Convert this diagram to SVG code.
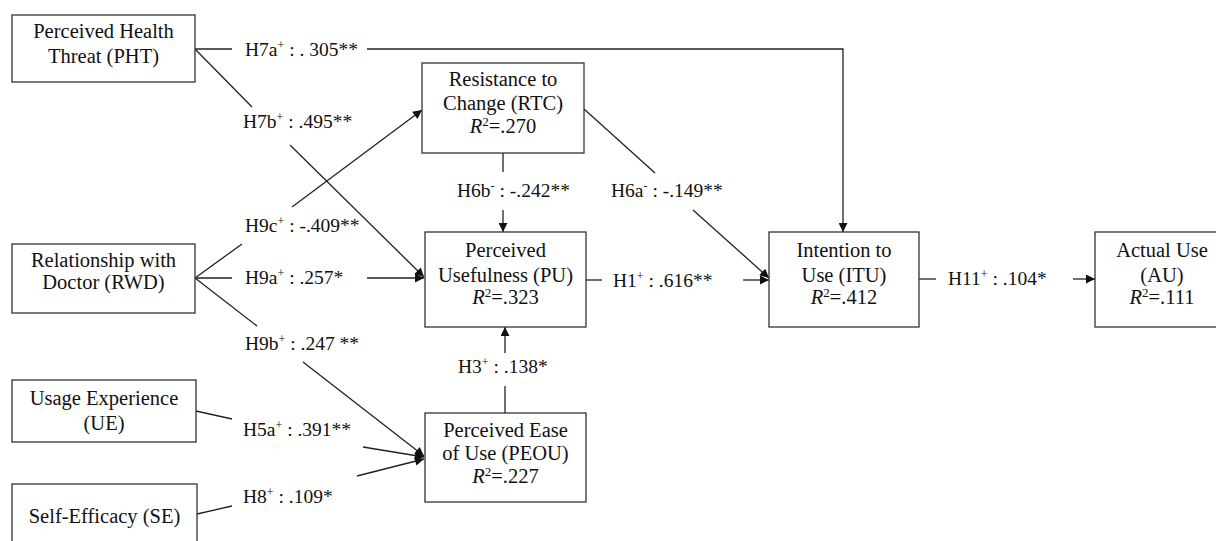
<svg xmlns="http://www.w3.org/2000/svg" width="1216" height="541" viewBox="0 0 1216 541">
<style>
text{font-family:"Liberation Serif","Times New Roman",serif;font-size:20.5px;fill:#111}
.c text{font-size:19.5px}
.n text{text-anchor:middle}
.box{fill:#fff;stroke:#333;stroke-width:1.3}
.c line,.c polyline{stroke:#222;stroke-width:1.3;fill:none}
.arr{marker-end:url(#ah)}
.i{font-style:italic}
</style>
<defs>
<marker id="ah" viewBox="0 0 10 10" refX="10" refY="5" markerWidth="11" markerHeight="9" markerUnits="userSpaceOnUse" orient="auto">
<path d="M0,0 L10,5 L0,10 z" fill="#111"/>
</marker>
</defs>
<rect width="1216" height="541" fill="#fff"/>
<g class="c" id="connectors">
<line x1="195" y1="49" x2="232" y2="49"/>
<polyline class="arr" points="367,49 843,49 843,232"/>
<line x1="195" y1="49" x2="252" y2="107"/>
<line class="arr" x1="290" y1="145" x2="424" y2="277"/>
<line x1="195" y1="278" x2="242" y2="244"/>
<line class="arr" x1="292" y1="207" x2="422" y2="110"/>
<line x1="195" y1="278" x2="232" y2="278"/>
<line class="arr" x1="367" y1="278" x2="424" y2="278"/>
<line x1="195" y1="278" x2="257" y2="326"/>
<line class="arr" x1="303" y1="362" x2="424" y2="456"/>
<line x1="196" y1="411" x2="232" y2="419"/>
<line class="arr" x1="363" y1="447" x2="424" y2="457"/>
<line x1="197" y1="514" x2="232" y2="506"/>
<line class="arr" x1="357" y1="476" x2="424" y2="459"/>
<line x1="503" y1="153" x2="503" y2="172"/>
<line class="arr" x1="503" y1="210" x2="503" y2="232"/>
<line x1="584" y1="109" x2="655" y2="173"/>
<line class="arr" x1="693" y1="210" x2="769" y2="278"/>
<line x1="586" y1="280" x2="602" y2="280"/>
<line class="arr" x1="743" y1="280" x2="769" y2="280"/>
<line x1="505" y1="413" x2="505" y2="386"/>
<line class="arr" x1="505" y1="353" x2="505" y2="327"/>
<line x1="919" y1="279" x2="936" y2="279"/>
<line class="arr" x1="1073" y1="279" x2="1095" y2="279"/>
<text x="245" y="56">H7a<tspan font-size="12" dy="-7">+</tspan><tspan dy="7"> : . 305**</tspan></text>
<text x="243" y="128">H7b<tspan font-size="12" dy="-7">+</tspan><tspan dy="7"> : .495**</tspan></text>
<text x="245" y="232">H9c<tspan font-size="12" dy="-7">+</tspan><tspan dy="7"> : -.409**</tspan></text>
<text x="245" y="284">H9a<tspan font-size="12" dy="-7">+</tspan><tspan dy="7"> : .257*</tspan></text>
<text x="245" y="350">H9b<tspan font-size="12" dy="-7">+</tspan><tspan dy="7"> : .247 **</tspan></text>
<text x="243" y="436">H5a<tspan font-size="12" dy="-7">+</tspan><tspan dy="7"> : .391**</tspan></text>
<text x="243" y="503">H8<tspan font-size="12" dy="-7">+</tspan><tspan dy="7"> : .109*</tspan></text>
<text x="457" y="197">H6b<tspan font-size="12" dy="-7">-</tspan><tspan dy="7"> : -.242**</tspan></text>
<text x="611" y="197">H6a<tspan font-size="12" dy="-7">-</tspan><tspan dy="7"> : -.149**</tspan></text>
<text x="613" y="287">H1<tspan font-size="12" dy="-7">+</tspan><tspan dy="7"> : .616**</tspan></text>
<text x="458" y="373">H3<tspan font-size="12" dy="-7">+</tspan><tspan dy="7"> : .138*</tspan></text>
<text x="948" y="285">H11<tspan font-size="12" dy="-7">+</tspan><tspan dy="7"> : .104*</tspan></text>
</g>
<g class="n" id="PHT">
<rect class="box" x="12" y="15" width="183" height="67"/>
<text x="103.5" y="38">Perceived Health</text>
<text x="103.5" y="63">Threat (PHT)</text>
</g>
<g class="n" id="RWD">
<rect class="box" x="12" y="244" width="183" height="69"/>
<text x="103.5" y="267">Relationship with</text>
<text x="103.5" y="289">Doctor (RWD)</text>
</g>
<g class="n" id="UE">
<rect class="box" x="12" y="380" width="184" height="62"/>
<text x="104" y="405">Usage Experience</text>
<text x="104" y="430">(UE)</text>
</g>
<g class="n" id="SE">
<rect class="box" x="12" y="484" width="185" height="70"/>
<text x="104.5" y="523">Self-Efficacy (SE)</text>
</g>
<g class="n" id="RTC">
<rect class="box" x="422" y="63" width="162" height="90"/>
<text x="503" y="86">Resistance to</text>
<text x="503" y="110">Change (RTC)</text>
<text x="503" y="133"><tspan class="i">R</tspan><tspan font-size="13" dy="-7">2</tspan><tspan dy="7">=.270</tspan></text>
</g>
<g class="n" id="PU">
<rect class="box" x="425" y="232" width="161" height="95"/>
<text x="505.5" y="257">Perceived</text>
<text x="505.5" y="282">Usefulness (PU)</text>
<text x="505.5" y="304"><tspan class="i">R</tspan><tspan font-size="13" dy="-7">2</tspan><tspan dy="7">=.323</tspan></text>
</g>
<g class="n" id="PEOU">
<rect class="box" x="425" y="413" width="161" height="89"/>
<text x="505.5" y="437">Perceived Ease</text>
<text x="505.5" y="460">of Use (PEOU)</text>
<text x="505.5" y="483"><tspan class="i">R</tspan><tspan font-size="13" dy="-7">2</tspan><tspan dy="7">=.227</tspan></text>
</g>
<g class="n" id="ITU">
<rect class="box" x="769" y="232" width="150" height="95"/>
<text x="844" y="257">Intention to</text>
<text x="844" y="282">Use (ITU)</text>
<text x="844" y="304"><tspan class="i">R</tspan><tspan font-size="13" dy="-7">2</tspan><tspan dy="7">=.412</tspan></text>
</g>
<g class="n" id="AU">
<rect class="box" x="1095" y="232" width="135" height="95"/>
<text x="1162" y="257">Actual Use</text>
<text x="1162" y="282">(AU)</text>
<text x="1162" y="304"><tspan class="i">R</tspan><tspan font-size="13" dy="-7">2</tspan><tspan dy="7">=.111</tspan></text>
</g>
</svg>
